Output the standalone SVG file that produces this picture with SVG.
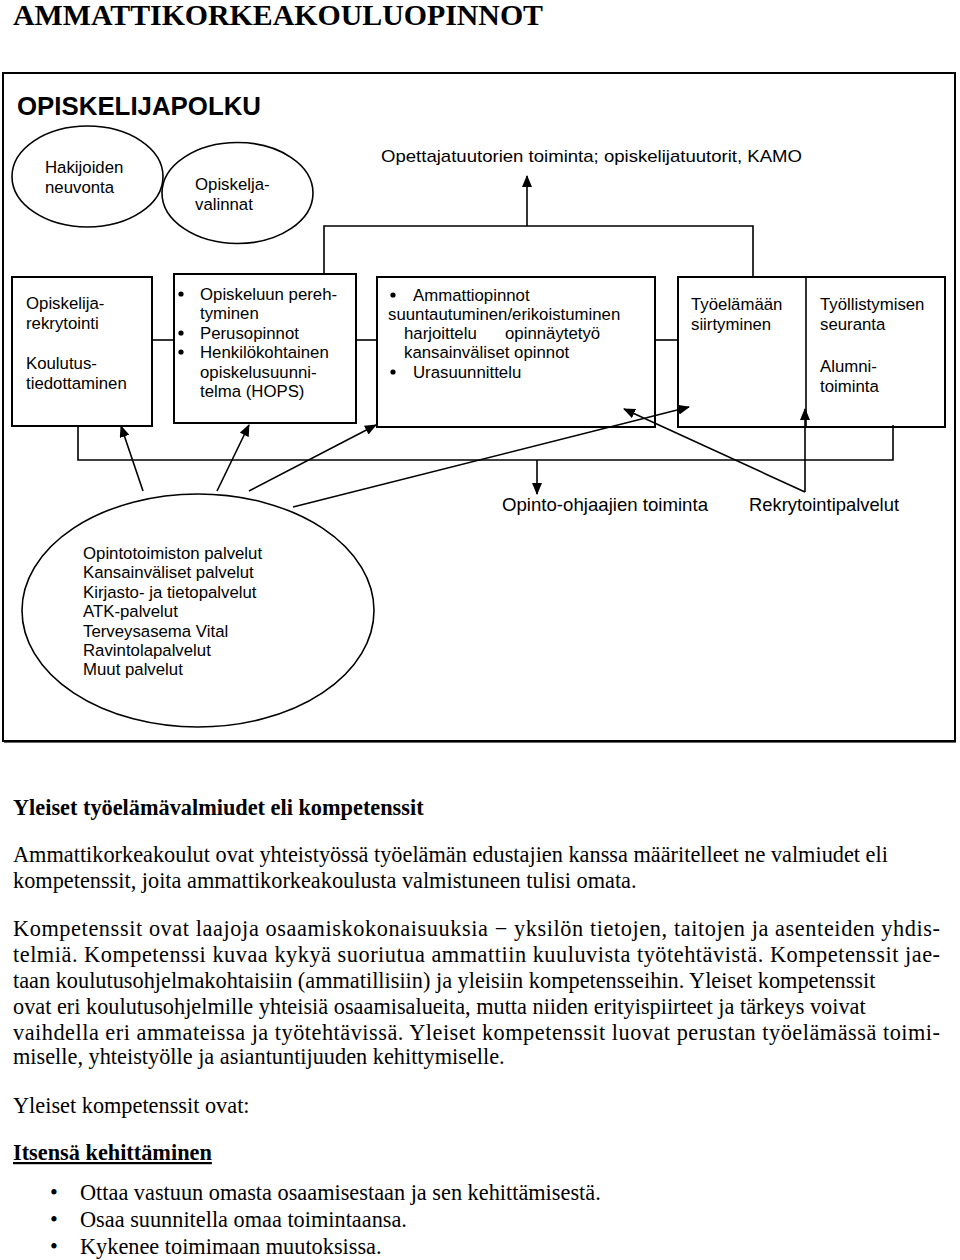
<svg xmlns="http://www.w3.org/2000/svg" width="960" height="1260" viewBox="0 0 960 1260">
<defs>
<marker id="ah" markerUnits="userSpaceOnUse" markerWidth="12" markerHeight="10" refX="11" refY="5" orient="auto">
<path d="M0,0 L12,5 L0,10 Z" fill="#000"/>
</marker>
</defs>
<style>
.sans{font-family:"Liberation Sans",Arial,sans-serif;fill:#000}
.serif{font-family:"Liberation Serif","Times New Roman",serif;fill:#000}
.t16{font-size:16.8px}
.box{fill:#fff;stroke:#000;stroke-width:2}
.ell{fill:#fff;stroke:#000;stroke-width:1.6}
.ln{fill:none;stroke:#000;stroke-width:1.6}
.arr{fill:none;stroke:#000;stroke-width:1.6;marker-end:url(#ah)}
.body{font-size:22.3px}
</style>
<rect width="960" height="1260" fill="#fff"/>
<text class="serif" x="13" y="25" font-size="30" font-weight="bold" textLength="530" lengthAdjust="spacingAndGlyphs">AMMATTIKORKEAKOULUOPINNOT</text>
<g id="frame">
<rect x="3" y="73" width="952" height="668" fill="none" stroke="#000" stroke-width="2"/>
<line x1="4" y1="742.5" x2="956" y2="742.5" stroke="#666" stroke-width="1"/>
<text class="sans" x="17" y="115" font-size="25" font-weight="bold" textLength="244" lengthAdjust="spacingAndGlyphs">OPISKELIJAPOLKU</text>
</g>
<g id="hakijoiden">
<ellipse class="ell" cx="87.5" cy="176.5" rx="75.5" ry="50.5"/>
<text class="sans t16" x="45" y="173">Hakijoiden</text>
<text class="sans t16" x="45" y="193">neuvonta</text>
</g>
<g id="opiskelijavalinnat">
<ellipse class="ell" cx="237.5" cy="193" rx="75.5" ry="50.5"/>
<text class="sans t16" x="195" y="190">Opiskelja-</text>
<text class="sans t16" x="195" y="210">valinnat</text>
</g>
<g id="tuutorit">
<text class="sans" x="381" y="162" font-size="17" textLength="421" lengthAdjust="spacingAndGlyphs">Opettajatuutorien toiminta; opiskelijatuutorit, KAMO</text>
</g>
<g id="box1">
<rect class="box" x="12" y="277" width="140" height="149"/>
<text class="sans t16" x="26" y="309">Opiskelija-</text>
<text class="sans t16" x="26" y="329">rekrytointi</text>
<text class="sans t16" x="26" y="369">Koulutus-</text>
<text class="sans t16" x="26" y="389">tiedottaminen</text>
</g>
<g id="box2">
<rect class="box" x="174" y="274" width="182" height="149"/>
<circle cx="181" cy="294" r="2.6"/>
<circle cx="181" cy="333" r="2.6"/>
<circle cx="181" cy="352" r="2.6"/>
<text class="sans t16" x="200" y="300">Opiskeluun pereh-</text>
<text class="sans t16" x="200" y="319">tyminen</text>
<text class="sans t16" x="200" y="339">Perusopinnot</text>
<text class="sans t16" x="200" y="358">Henkilökohtainen</text>
<text class="sans t16" x="200" y="378">opiskelusuunni-</text>
<text class="sans t16" x="200" y="397">telma (HOPS)</text>
</g>
<g id="box3">
<rect class="box" x="377" y="277" width="278" height="150"/>
<circle cx="393" cy="295" r="2.6"/>
<circle cx="393" cy="372" r="2.6"/>
<text class="sans t16" x="413" y="301">Ammattiopinnot</text>
<text class="sans t16" x="388" y="320">suuntautuminen/erikoistuminen</text>
<text class="sans t16" x="404" y="339">harjoittelu</text>
<text class="sans t16" x="505" y="339">opinnäytetyö</text>
<text class="sans t16" x="404" y="358">kansainväliset opinnot</text>
<text class="sans t16" x="413" y="378">Urasuunnittelu</text>
</g>
<g id="box4">
<rect class="box" x="678" y="277" width="267" height="150"/>
<line class="ln" x1="806" y1="277" x2="806" y2="427"/>
<text class="sans t16" x="691" y="310">Työelämään</text>
<text class="sans t16" x="691" y="330">siirtyminen</text>
<text class="sans t16" x="820" y="310">Työllistymisen</text>
<text class="sans t16" x="820" y="330">seuranta</text>
<text class="sans t16" x="820" y="372">Alumni-</text>
<text class="sans t16" x="820" y="392">toiminta</text>
</g>
<g id="opintoohjaajat">
<text class="sans" x="502" y="511" font-size="19" textLength="206" lengthAdjust="spacingAndGlyphs">Opinto-ohjaajien toiminta</text>
</g>
<g id="rekrytointi">
<text class="sans" x="749" y="511" font-size="19" textLength="150" lengthAdjust="spacingAndGlyphs">Rekrytointipalvelut</text>
</g>
<g id="palvelut">
<ellipse class="ell" cx="198" cy="610.5" rx="176" ry="116.5"/>
<text class="sans t16" x="83" y="559">Opintotoimiston palvelut</text>
<text class="sans t16" x="83" y="578">Kansainväliset palvelut</text>
<text class="sans t16" x="83" y="598">Kirjasto- ja tietopalvelut</text>
<text class="sans t16" x="83" y="617">ATK-palvelut</text>
<text class="sans t16" x="83" y="637">Terveysasema Vital</text>
<text class="sans t16" x="83" y="656">Ravintolapalvelut</text>
<text class="sans t16" x="83" y="675">Muut palvelut</text>
</g>
<g id="connectors">
<polyline class="ln" points="324,273 324,226 753,226 753,277"/>
<line class="arr" x1="527" y1="226" x2="527" y2="176"/>
<line class="ln" x1="152" y1="340" x2="174" y2="340"/>
<line class="ln" x1="356" y1="340" x2="377" y2="340"/>
<line class="ln" x1="655" y1="340" x2="678" y2="340"/>
<polyline class="ln" points="78,426 78,460 893,460 893,425"/>
<line class="arr" x1="537" y1="460" x2="537" y2="494"/>
<line class="arr" x1="143" y1="491" x2="121" y2="426"/>
<line class="arr" x1="217" y1="491" x2="249" y2="425"/>
<line class="arr" x1="249" y1="491" x2="376" y2="425"/>
<line class="arr" x1="293" y1="507" x2="689" y2="407"/>
<line class="arr" x1="805" y1="492" x2="624" y2="409"/>
<line class="arr" x1="805" y1="492" x2="805" y2="409"/>
</g>
<g id="text">
<text class="serif body" x="13" y="815" font-weight="bold">Yleiset työelämävalmiudet eli kompetenssit</text>
<text class="serif body" x="13" y="862">Ammattikorkeakoulut ovat yhteistyössä työelämän edustajien kanssa määritelleet ne valmiudet eli</text>
<text class="serif body" x="13" y="888">kompetenssit, joita ammattikorkeakoulusta valmistuneen tulisi omata.</text>
<text class="serif body" x="13" y="936" textLength="927" lengthAdjust="spacing">Kompetenssit ovat laajoja osaamiskokonaisuuksia − yksilön tietojen, taitojen ja asenteiden yhdis-</text>
<text class="serif body" x="13" y="962" textLength="927" lengthAdjust="spacing">telmiä. Kompetenssi kuvaa kykyä suoriutua ammattiin kuuluvista työtehtävistä. Kompetenssit jae-</text>
<text class="serif body" x="13" y="988">taan koulutusohjelmakohtaisiin (ammatillisiin) ja yleisiin kompetensseihin. Yleiset kompetenssit</text>
<text class="serif body" x="13" y="1014">ovat eri koulutusohjelmille yhteisiä osaamisalueita, mutta niiden erityispiirteet ja tärkeys voivat</text>
<text class="serif body" x="13" y="1040" textLength="927" lengthAdjust="spacing">vaihdella eri ammateissa ja työtehtävissä. Yleiset kompetenssit luovat perustan työelämässä toimi-</text>
<text class="serif body" x="13" y="1064">miselle, yhteistyölle ja asiantuntijuuden kehittymiselle.</text>
<text class="serif body" x="13" y="1113">Yleiset kompetenssit ovat:</text>
<text class="serif body" x="13" y="1160" font-weight="bold" text-decoration="underline">Itsensä kehittäminen</text>
<text class="serif body" x="50" y="1200">•</text>
<text class="serif body" x="80" y="1200">Ottaa vastuun omasta osaamisestaan ja sen kehittämisestä.</text>
<text class="serif body" x="50" y="1227">•</text>
<text class="serif body" x="80" y="1227">Osaa suunnitella omaa toimintaansa.</text>
<text class="serif body" x="50" y="1254">•</text>
<text class="serif body" x="80" y="1254">Kykenee toimimaan muutoksissa.</text>
</g>
</svg>
